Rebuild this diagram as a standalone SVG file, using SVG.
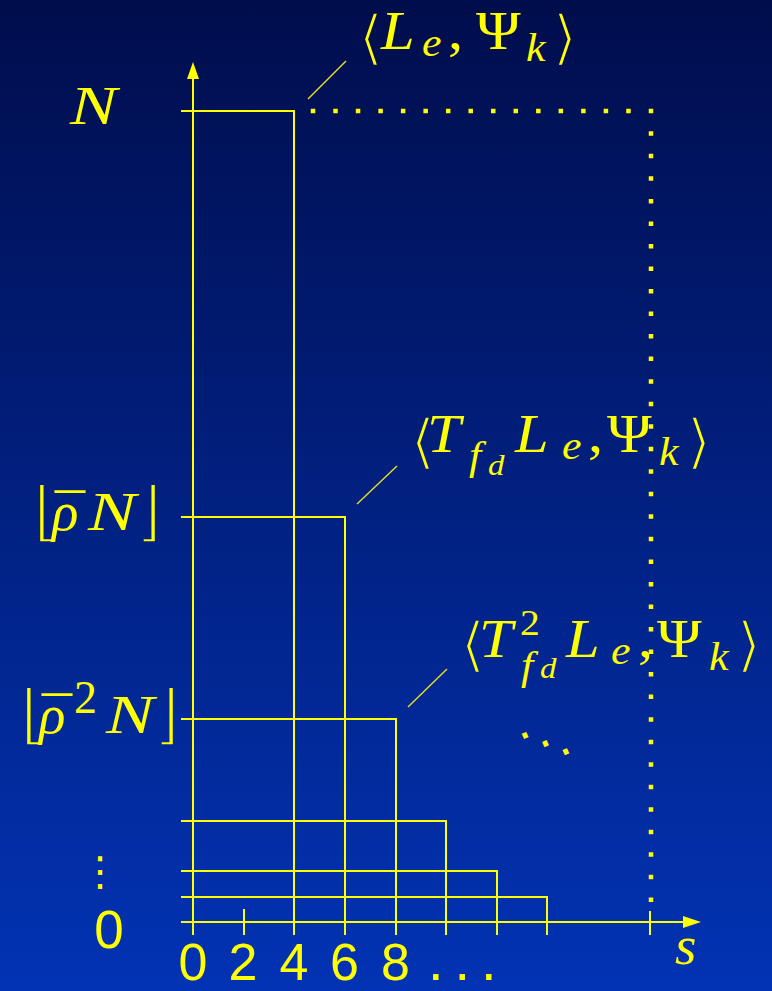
<svg xmlns="http://www.w3.org/2000/svg" width="772" height="991" viewBox="0 0 772 991">
<defs>
<linearGradient id="bg" gradientUnits="userSpaceOnUse" x1="0" y1="0" x2="0" y2="991">
<stop offset="0" stop-color="#000d4c"/>
<stop offset="1" stop-color="#0233b4"/>
</linearGradient>
</defs>
<style>
.ln{stroke:#ffff00;stroke-width:2;fill:none}
.dot{stroke:#ffff00;stroke-width:4.5;fill:none;stroke-dasharray:0 22.533;stroke-linecap:square}
.lead{stroke:#e8e020;stroke-width:1.4;fill:none}
.ah{fill:#ffff00}
.m{font-family:"Liberation Serif","DejaVu Serif",serif;fill:#ffff00;font-size:55px}
.i{font-style:italic}
.s{font-family:"DejaVu Sans",sans-serif;font-style:normal;font-size:60px;stroke:url(#bg);stroke-width:2.2px}
.fl{font-family:"DejaVu Sans",sans-serif;font-style:normal;font-size:66px;stroke:url(#bg);stroke-width:2.6px}
.sb{font-size:40px}
.ss{font-size:30px}
.d{font-family:"Liberation Sans",sans-serif;fill:#ffff00}
</style>
<rect width="772" height="991" fill="url(#bg)"/>
<g id="axes">
<path class="ln" d="M193 935V70M181 922H690M244 909V935M650 911V935"/>
<polygon class="ah" points="193,62 187,79 199,79"/>
<polygon class="ah" points="701,922 683,916 683,928"/>
<path class="dot" d="M313 111H651V922"/>
</g>
<g id="bars">
<path class="ln" d="M181 111H294V935"/>
<path class="ln" d="M181 517H345V935"/>
<path class="ln" d="M181 719H396V935"/>
<path class="ln" d="M181 821H446V935"/>
<path class="ln" d="M181 871H497V935"/>
<path class="ln" d="M181 897H547V935"/>
</g>
<g id="connectors">
<line class="lead" x1="308" y1="99" x2="346" y2="61"/>
<line class="lead" x1="357" y1="504" x2="397" y2="466"/>
<line class="lead" x1="408" y1="707" x2="447" y2="669"/>
</g>
<g id="label-Le">
<text class="m" transform="translate(358,0) scale(1.1,1)"><tspan class="s" x="0" y="58">⟨</tspan><tspan class="i" x="20.9" y="49">L</tspan><tspan class="i sb" x="58.2" y="56">e</tspan><tspan x="81.8" y="49">,</tspan><tspan x="107.3" y="49">Ψ</tspan><tspan class="i sb" x="152.7" y="61.5">k</tspan><tspan class="s" x="176.4" y="58">⟩</tspan></text>
</g>
<g id="label-TLe">
<text class="m" transform="translate(410,0) scale(1.1,1)"><tspan class="s" x="0" y="462">⟨</tspan><tspan class="i" x="15.5" y="452">T</tspan><tspan class="i sb" x="53.6" y="469">f</tspan><tspan class="i ss" x="70.9" y="475">d</tspan><tspan class="i" x="95.5" y="452">L</tspan><tspan class="i sb" x="138.2" y="459">e</tspan><tspan x="161.8" y="452">,</tspan><tspan x="179" y="452">Ψ</tspan><tspan class="i sb" x="226.4" y="465">k</tspan><tspan class="s" x="250.9" y="462">⟩</tspan></text>
</g>
<g id="label-T2Le">
<text class="m" transform="translate(460,0) scale(1.1,1)"><tspan class="s" x="0" y="665">⟨</tspan><tspan class="i" x="17.3" y="657">T</tspan><tspan font-size="36" x="54.5" y="635">2</tspan><tspan class="i sb" x="55.5" y="679">f</tspan><tspan class="i ss" x="72.7" y="678">d</tspan><tspan class="i" x="96.4" y="657">L</tspan><tspan class="i sb" x="137.3" y="664">e</tspan><tspan x="161.8" y="657">,</tspan><tspan x="179" y="657">Ψ</tspan><tspan class="i sb" x="226.4" y="670">k</tspan><tspan class="s" x="250.9" y="665">⟩</tspan></text>
</g>
<g id="label-N">
<text class="m i" x="70" y="124" textLength="47" lengthAdjust="spacingAndGlyphs">N</text>
</g>
<g id="label-rhoN">
<text class="m"><tspan class="fl" x="33" y="534">⌊</tspan><tspan font-size="60" x="55" y="535">¯</tspan><tspan class="i" x="52" y="530">ρ</tspan><tspan class="i" x="88" y="530" textLength="48" lengthAdjust="spacingAndGlyphs">N</tspan><tspan class="fl" x="136" y="534">⌋</tspan></text>
</g>
<g id="label-rho2N">
<text class="m"><tspan class="fl" x="20" y="737">⌊</tspan><tspan font-size="60" x="42" y="738">¯</tspan><tspan class="i" x="39" y="733">ρ</tspan><tspan font-size="46" x="74" y="713">2</tspan><tspan class="i" x="106" y="733" textLength="48" lengthAdjust="spacingAndGlyphs">N</tspan><tspan class="fl" x="154" y="737">⌋</tspan></text>
</g>
<g id="label-vdots">
<text fill="#ffff00" font-family="DejaVu Sans, sans-serif" font-size="40" x="100" y="885" text-anchor="middle">⋮</text>
</g>
<g id="label-zero">
<text class="d" font-size="53" x="109" y="948" text-anchor="middle">0</text>
</g>
<g id="label-ddots">
<text fill="#ffff00" font-family="DejaVu Sans, sans-serif" font-size="40" text-anchor="middle" transform="translate(543,744) rotate(-24) scale(1.15)" x="2" y="13">⋱</text>
</g>
<g id="label-xticks">
<text class="d" font-size="52" text-anchor="middle"><tspan x="193" y="979.5">0</tspan><tspan x="243" y="979.5">2</tspan><tspan x="294" y="979.5">4</tspan><tspan x="344.5" y="979.5">6</tspan><tspan x="395.5" y="979.5">8</tspan></text>
<text class="d" font-size="56" letter-spacing="10.9" x="428" y="979.5">...</text>
</g>
<g id="label-s">
<text class="m i" font-size="56" x="675" y="964">s</text>
</g>
</svg>
